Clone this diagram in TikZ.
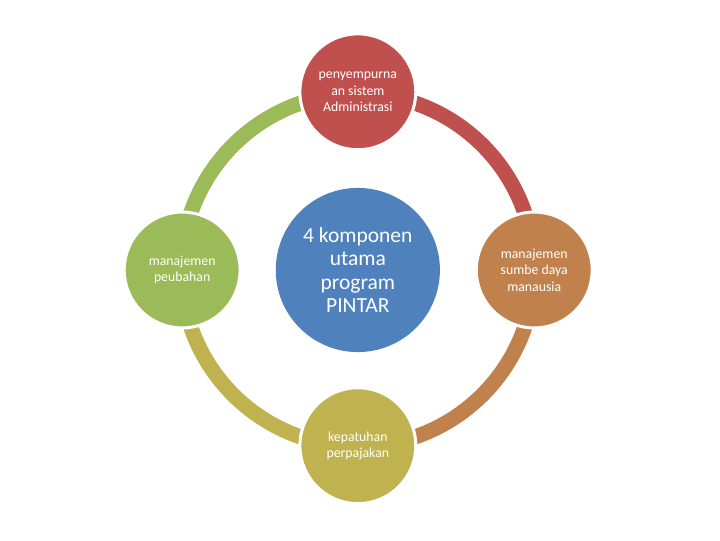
\documentclass[tikz,border=0pt]{standalone}
\usepackage{fontspec}
\setmainfont{Carlito}
\usepackage{tikz}
\definecolor{myblue}{HTML}{4F81BD}
\definecolor{myred}{HTML}{C0504D}
\definecolor{mybrown}{HTML}{C0814D}
\definecolor{myolive}{HTML}{BFB24F}
\definecolor{mygreen}{HTML}{9BBB59}
\tikzset{
	item/.style={circle, draw=white, line width=2.4pt, minimum size=3.22cm, inner sep=0pt, align=center, text=white, font=\fontsize{10.9}{13}\selectfont},
	ringpart/.style={line width=12pt}
}

\begin{document}
\begin{tikzpicture}
				\useasboundingbox (-9.94,-7.5) rectangle (10.06,7.5);
				% ring, one arc per step
				\draw [ringpart, mygreen] (180:4.9) arc (180:90:4.9);
				\draw [ringpart, myred] (90:4.9) arc (90:0:4.9);
				\draw [ringpart, mybrown] (0:4.9) arc (0:-90:4.9);
				\draw [ringpart, myolive] (-90:4.9) arc (-90:-180:4.9);
				\node [item, fill=myblue, draw=none, minimum size=4.56cm, font=\fontsize{17}{18.4}\selectfont] (hub) at (0,0) {4 komponen\\utama\\program\\PINTAR};
				\node [item, fill=myred] (admin) at (0,4.95) {penyempurna\\an sistem\\Administrasi};
				\node [item, fill=mybrown] (sdm) at (4.9,0) {manajemen\\sumbe daya\\manausia};
				\node [item, fill=myolive] (pajak) at (0,-4.88) {kepatuhan\\perpajakan};
				\node [item, fill=mygreen] (ubah) at (-4.88,0) {manajemen\\peubahan};
			\end{tikzpicture}
\end{document}
